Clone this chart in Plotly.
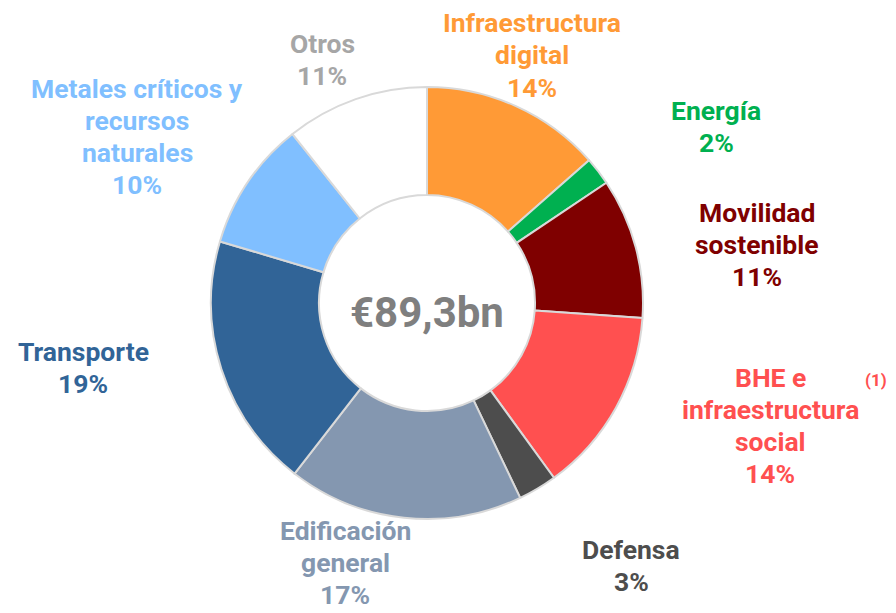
import plotly.graph_objects as go

categories = ["Infraestructura digital", "Energía", "Movilidad sostenible",
              "BHE e infraestructura social", "Defensa", "Edificación general",
              "Transporte", "Metales críticos y recursos naturales", "Otros"]
values = [13.5, 2.1, 10.5, 13.9, 2.9, 17.6, 19.1, 9.7, 10.7]
pct_labels = ["14%", "2%", "11%", "14%", "3%", "17%", "19%", "10%", "11%"]
colors = ["#FF9A36", "#00B050", "#7F0000", "#FF5050", "#4D4D4D",
          "#8497B0", "#316497", "#80BFFF", "#FFFFFF"]
label_colors = ["#FF9A36", "#00B050", "#7F0000", "#FF5050", "#4D4D4D",
                "#8497B0", "#316497", "#80BFFF", "#A6A6A6"]
label_lines = [["Infraestructura", "digital"], ["Energía"], ["Movilidad", "sostenible"],
               ["BHE e", "infraestructura", "social"], ["Defensa"],
               ["Edificación", "general"], ["Transporte"],
               ["Metales críticos y", "recursos", "naturales"], ["Otros"]]
center_text = "€89,3bn"

W, H = 896, 613
cx, cy, R = 427, 303, 216
# label anchor positions (pixel): x center, y of first line
label_pos = [(532, 23), (716, 110), (757, 212), (770, 377), (631, 549),
             (345, 530), (83, 351), (137, 89), (322, 44)]
LINE = 32

fig = go.Figure(go.Pie(
    labels=categories, values=values, sort=False, direction="clockwise",
    rotation=0, hole=0.5, textinfo="none", hoverinfo="label+percent",
    marker=dict(colors=colors, line=dict(color="#D9D9D9", width=2)),
    domain=dict(x=[(cx - R) / W, (cx + R) / W], y=[1 - (cy + R) / H, 1 - (cy - R) / H]),
    showlegend=False,
))

ann = []
for lines, pct, col, (px, py) in zip(label_lines, pct_labels, label_colors, label_pos):
    for i, t in enumerate(lines + [pct]):
        ann.append(dict(x=px / W, y=1 - (py + i * LINE) / H, xref="paper", yref="paper",
                        text=f"<b>{t}</b>", showarrow=False, xanchor="center", yanchor="middle",
                        font=dict(family="Roboto", size=26.5, color=col)))
ann.append(dict(x=876 / W, y=1 - 380 / H, xref="paper", yref="paper", text="<b>(1)</b>",
                showarrow=False, xanchor="center", yanchor="middle",
                font=dict(family="Roboto", size=17, color="#FF5050")))
ann.append(dict(x=cx / W, y=1 - 312 / H, xref="paper", yref="paper", text=f"<b>{center_text}</b>",
                showarrow=False, xanchor="center", yanchor="middle",
                font=dict(family="Roboto", size=42, color="#7F7F7F")))

fig.update_layout(width=W, height=H, margin=dict(l=0, r=0, t=0, b=0),
                  paper_bgcolor="white", plot_bgcolor="white", annotations=ann)
fig.write_html("out.html", config={"displayModeBar": False},
               post_script="document.body.style.margin='0';document.body.style.padding='0';")
